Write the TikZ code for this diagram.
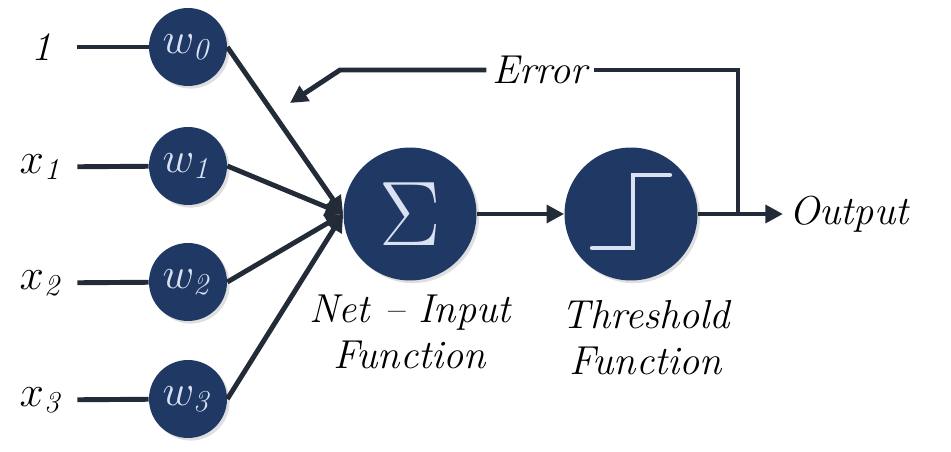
\documentclass[tikz,border=0pt]{standalone}
\usepackage{graphicx}
\usepackage{tikz}
\usetikzlibrary{arrows.meta,positioning,shadows}

\definecolor{navy}{HTML}{1F3864}
\definecolor{wirecol}{HTML}{232B38}
\definecolor{glyph}{HTML}{D9E1F2}

\begin{document}
\begin{tikzpicture}[
x=0.02cm, y=-0.02cm,
unit/.style={circle, fill=navy, text=glyph, minimum size=1.56cm, inner sep=0pt, font=\fontsize{24}{26}\selectfont, drop shadow={opacity=0.25, shadow xshift=1.5pt, shadow yshift=-1.5pt}},
bigunit/.style={unit, minimum size=2.66cm},
lbl/.style={align=center, font=\fontsize{23}{26}\selectfont\itshape},
inlbl/.style={lbl, minimum width=1.4cm, inner sep=0pt},
wire/.style={draw=wirecol, line width=2.8pt},
arr/.style={wire, -{Triangle[length=10pt, width=10pt]}}
]
\useasboundingbox (0,0) rectangle (951,452);
\node[inlbl] (one) at (42,47) {1};
\node[inlbl] (in1) at (42,167) {$x_{\mathit{1}}$};
\node[inlbl] (in2) at (42,283) {$x_{\mathit{2}}$};
\node[inlbl] (in3) at (42,400) {$x_{\mathit{3}}$};
\node[unit] (w0) at (188,47) {$w_{\mathit{0}}$};
\node[unit] (w1) at (188,166) {$w_{\mathit{1}}$};
\node[unit] (w2) at (188,282) {$w_{\mathit{2}}$};
\node[unit] (w3) at (188,399) {$w_{\mathit{3}}$};
\node[bigunit] (sum) at (410,214) {\scalebox{2.1}{$\Sigma$}};
\node[bigunit] (thr) at (631,214) {};
\node[lbl] (netlbl) at (410,332) {Net -- Input\\Function};
\node[lbl] (thrlbl) at (646,338) {Threshold\\Function};
\node[lbl, anchor=west] (out) at (783,214) {Output};
\node[lbl] (err) at (540,70) {Error};
\coordinate (tap) at (738,214);
\coordinate (bend) at (340,70);
\coordinate (fb) at (290,103);
% step glyph
\draw[draw=glyph, line width=2.4pt, line cap=round] ([shift={(-39,34)}]thr.center) -- ++(41,0) -- ++(0,-73) -- ++(37,0);
\draw[wire] (one) -- (w0);
\draw[wire] (in1) -- (w1);
\draw[wire] (in2) -- (w2);
\draw[wire] (in3) -- (w3);
\draw[arr] (w0.east) -- (sum.west);
\draw[arr] (w1.east) -- (sum.west);
\draw[arr] (w2.east) -- (sum.west);
\draw[arr] (w3.east) -- (sum.west);
\draw[arr] (sum) -- (thr);
\draw[arr] (thr) -- (out);
\draw[wire] (tap) |- (err);
\draw[arr] (err) -- (bend) -- (fb);
\end{tikzpicture}
\end{document}
